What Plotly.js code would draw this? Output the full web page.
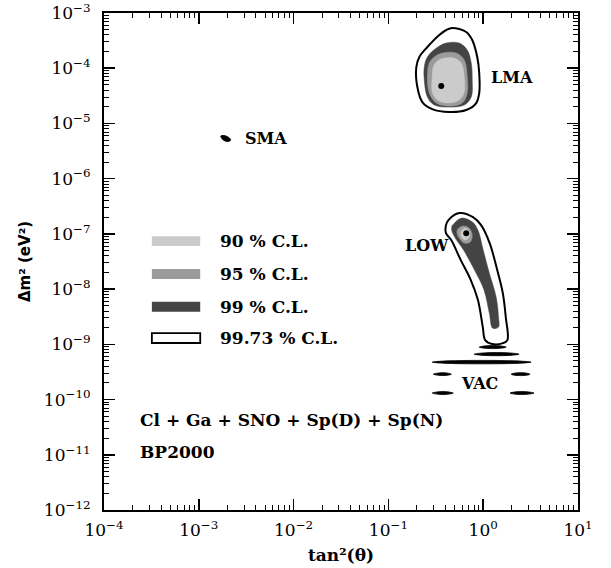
<!DOCTYPE html>
<html>
<head>
<meta charset="utf-8">
<script src="https://cdn.plot.ly/plotly-3.0.1.min.js"></script>
<style>html,body{margin:0;padding:0;background:#fff;}#chart{width:611px;height:568px;}</style>
</head>
<body>
<div id="chart"></div>
<script>
// ---- tick labels ----
const xTickVals = [1e-4, 1e-3, 1e-2, 1e-1, 1, 10];
const xTickText = ['10<sup>−4</sup>', '10<sup>−3</sup>', '10<sup>−2</sup>', '10<sup>−1</sup>', '10<sup>0</sup>', '10<sup>1</sup>'];
const yTickVals = [1e-12, 1e-11, 1e-10, 1e-9, 1e-8, 1e-7, 1e-6, 1e-5, 1e-4, 1e-3];
const yTickText = ['10<sup>−12</sup>', '10<sup>−11</sup>', '10<sup>−10</sup>', '10<sup>−9</sup>', '10<sup>−8</sup>', '10<sup>−7</sup>', '10<sup>−6</sup>', '10<sup>−5</sup>', '10<sup>−4</sup>', '10<sup>−3</sup>'];

// ---- LMA region ----
const lmaOuterX = [0.472, 0.662, 0.766, 0.865, 0.908, 0.908, 0.844, 0.662, 0.438, 0.290, 0.228, 0.202, 0.197, 0.212, 0.258, 0.344, 0.408, 0.472];
const lmaOuterY = [5.35e-4, 4.53e-4, 3.24e-4, 1.60e-4, 8.18e-5, 3.56e-5, 2.34e-5, 1.75e-5, 1.61e-5, 1.82e-5, 2.44e-5, 4.56e-5, 1.05e-4, 1.60e-4, 2.42e-4, 3.99e-4, 4.92e-4, 5.35e-4];
const lma99X = [0.408, 0.559, 0.679, 0.748, 0.766, 0.748, 0.631, 0.438, 0.305, 0.258, 0.239, 0.239, 0.258, 0.320, 0.408];
const lma99Y = [2.86e-4, 2.86e-4, 2.14e-4, 1.24e-4, 6.11e-5, 3.01e-5, 2.15e-5, 1.98e-5, 2.15e-5, 3.01e-5, 6.11e-5, 1.05e-4, 1.60e-4, 2.32e-4, 2.86e-4];
const lma95X = [0.370, 0.520, 0.631, 0.679, 0.679, 0.601, 0.438, 0.320, 0.270, 0.258, 0.270, 0.305, 0.370];
const lma95Y = [1.88e-4, 1.88e-4, 1.41e-4, 6.93e-5, 3.56e-5, 2.34e-5, 2.06e-5, 2.34e-5, 3.56e-5, 6.93e-5, 1.24e-4, 1.60e-4, 1.88e-4];
const lma90X = [0.389, 0.495, 0.586, 0.631, 0.631, 0.559, 0.418, 0.328, 0.290, 0.290, 0.298, 0.328, 0.389];
const lma90Y = [1.53e-4, 1.53e-4, 1.24e-4, 6.93e-5, 3.71e-5, 2.65e-5, 2.34e-5, 2.65e-5, 3.71e-5, 6.93e-5, 1.05e-4, 1.35e-4, 1.53e-4];
const lmaBestX = [0.361];
const lmaBestY = [4.76e-5];

// ---- SMA region ----
const smaX = [1.71e-3, 1.83e-3, 2.07e-3, 2.17e-3, 2.02e-3, 1.79e-3, 1.71e-3];
const smaY = [5.91e-6, 6.04e-6, 5.56e-6, 5.00e-6, 4.70e-6, 5.11e-6, 5.91e-6];

// ---- LOW region ----
const lowOuterX = [0.43, 0.56, 0.78, 0.95, 1.17, 1.38, 1.61, 1.73, 1.80, 1.62, 1.245, 1.05, 0.99, 0.88, 0.74, 0.58, 0.46, 0.405, 0.405, 0.43];
const lowOuterY = [1.78e-7, 2.38e-7, 2.01e-7, 1.44e-7, 6.81e-8, 2.51e-8, 8.47e-9, 3.11e-9, 1.19e-9, 1.05e-9, 1.01e-9, 1.19e-9, 2.05e-9, 6.33e-9, 1.46e-8, 3.35e-8, 7.73e-8, 1.03e-7, 1.44e-7, 1.78e-7];
const low99X = [0.475, 0.59, 0.77, 0.88, 1.00, 1.16, 1.37, 1.45, 1.45, 1.26, 1.16, 1.02, 0.81, 0.62, 0.50, 0.465, 0.47];
const low99Y = [1.44e-7, 1.93e-7, 1.64e-7, 1.17e-7, 5.09e-8, 1.95e-8, 7.16e-9, 3.11e-9, 2.05e-9, 1.96e-9, 3.67e-9, 9.59e-9, 2.21e-8, 5.09e-8, 8.75e-8, 1.17e-7, 1.44e-7];
const low95X = [0.532, 0.601, 0.713, 0.766, 0.730, 0.631, 0.559, 0.532, 0.532];
const low95Y = [1.17e-7, 1.38e-7, 1.27e-7, 9.51e-8, 7.10e-8, 6.81e-8, 8.40e-8, 9.91e-8, 1.17e-7];
const low90X = [0.586, 0.647, 0.713, 0.713, 0.647, 0.586, 0.586];
const low90Y = [1.12e-7, 1.27e-7, 1.12e-7, 8.75e-8, 7.73e-8, 8.75e-8, 1.12e-7];
const lowBestX = [0.662];
const lowBestY = [1.03e-7];

// ---- VAC islands (thin closed contours) ----
const vacIslandsX = [
  [0.908, 1.076, 1.474, 1.746, 1.474, 1.076, 0.908],
  [0.803, 1.025, 1.88, 2.39, 1.88, 1.025, 0.803],
  [0.290, 0.438, 2.12, 3.20, 2.12, 0.438, 0.290],
  [0.298, 0.344, 0.408, 0.461, 0.408, 0.344, 0.298],
  [1.97, 2.22, 2.77, 3.12, 2.77, 2.22, 1.97],
  [0.290, 0.336, 0.418, 0.483, 0.418, 0.336, 0.290],
  [1.92, 2.22, 2.90, 3.44, 2.90, 2.22, 1.92]
];
const vacIslandsY = [
  [8.90e-10, 9.40e-10, 9.40e-10, 8.90e-10, 8.45e-10, 8.45e-10, 8.90e-10],
  [6.64e-10, 7.00e-10, 7.00e-10, 6.64e-10, 6.30e-10, 6.30e-10, 6.64e-10],
  [4.76e-10, 5.03e-10, 5.03e-10, 4.76e-10, 4.51e-10, 4.51e-10, 4.76e-10],
  [2.88e-10, 3.04e-10, 3.04e-10, 2.88e-10, 2.74e-10, 2.74e-10, 2.88e-10],
  [2.88e-10, 3.04e-10, 3.04e-10, 2.88e-10, 2.74e-10, 2.74e-10, 2.88e-10],
  [1.31e-10, 1.38e-10, 1.38e-10, 1.31e-10, 1.245e-10, 1.245e-10, 1.31e-10],
  [1.31e-10, 1.38e-10, 1.38e-10, 1.31e-10, 1.245e-10, 1.245e-10, 1.31e-10]
];

// ---- legend / labels ----
const clLabels = ['90 % C.L.', '95 % C.L.', '99 % C.L.', '99.73 % C.L.'];
const clColors = ['#cbcbcb', '#9b9b9b', '#444444', '#ffffff'];
const regionNames = ['LMA', 'SMA', 'LOW', 'VAC'];
const infoLines = ['Cl + Ga + SNO + Sp(D) + Sp(N)', 'BP2000'];

const C90 = clColors[0], C95 = clColors[1], C99 = clColors[2];

function poly(x, y, fill, lineColor, lineWidth) {
  return {
    type: 'scatter', mode: 'lines', x: x, y: y, fill: 'toself', fillcolor: fill,
    line: {color: lineColor, width: lineWidth, shape: 'spline', smoothing: 1},
    hoverinfo: 'skip', showlegend: false
  };
}
function dot(x, y) {
  return {type: 'scatter', mode: 'markers', x: x, y: y, marker: {color: '#000', size: 6},
    hoverinfo: 'skip', showlegend: false};
}

const traces = [
  poly(lmaOuterX, lmaOuterY, '#ffffff', '#000', 2),
  poly(lma99X, lma99Y, C99, C99, 0.5),
  poly(lma95X, lma95Y, C95, C95, 0.5),
  poly(lma90X, lma90Y, C90, C90, 0.5),
  dot(lmaBestX, lmaBestY),
  poly(smaX, smaY, '#000', '#000', 1),
  poly(lowOuterX, lowOuterY, '#ffffff', '#000', 2),
  poly(low99X, low99Y, C99, C99, 0.5),
  poly(low95X, low95Y, C95, C95, 0.5),
  poly(low90X, low90Y, C90, C90, 0.5),
  dot(lowBestX, lowBestY)
];
for (let i = 0; i < vacIslandsX.length; i++) {
  traces.push(poly(vacIslandsX[i], vacIslandsY[i], '#000', '#000', 0.8));
}
// empty trace that only creates the top/right overlay axes (for mirrored minor ticks)
traces.push({type: 'scatter', mode: 'markers', x: [], y: [], xaxis: 'x2', yaxis: 'y2',
  hoverinfo: 'skip', showlegend: false});

const serif = 'DejaVu Serif, serif';
const annFont = {family: serif, size: 17, color: '#000', weight: 'bold'};

// legend swatch rows (paper coordinates)
const rowTop = [0.551, 0.485, 0.419, 0.356];
const rowBot = [0.531, 0.465, 0.399, 0.336];
const rowMid = [0.541, 0.475, 0.409, 0.346];
const shapes = [];
const annotations = [];
for (let i = 0; i < clLabels.length; i++) {
  shapes.push({type: 'rect', xref: 'paper', yref: 'paper', x0: 0.101, x1: 0.203,
    y0: rowBot[i], y1: rowTop[i], fillcolor: clColors[i],
    line: {color: i === 3 ? '#000' : clColors[i], width: i === 3 ? 1.8 : 0}});
  annotations.push({xref: 'paper', yref: 'paper', x: 0.2405, y: rowMid[i], xanchor: 'left', yanchor: 'middle',
    text: clLabels[i], showarrow: false, font: annFont});
}
const regionPos = [[0.861, 0.871], [0.342, 0.748], [0.681, 0.533], [0.793, 0.254]];
for (let i = 0; i < regionNames.length; i++) {
  annotations.push({xref: 'paper', yref: 'paper', x: regionPos[i][0], y: regionPos[i][1],
    xanchor: 'center', yanchor: 'middle', text: regionNames[i], showarrow: false,
    font: {family: serif, size: 16, color: '#000', weight: 'bold'}});
}
annotations.push({xref: 'paper', yref: 'paper', x: 0.0717, y: 0.181, xanchor: 'left', yanchor: 'middle',
  text: infoLines[0], showarrow: false, font: annFont});
annotations.push({xref: 'paper', yref: 'paper', x: 0.0717, y: 0.117, xanchor: 'left', yanchor: 'middle',
  text: infoLines[1], showarrow: false, font: annFont});

const minorTicks = {ticks: 'inside', ticklen: 5, tickwidth: 1, tickcolor: '#000', dtick: 'D1', showgrid: false};
const axisCommon = {
  type: 'log', showgrid: false, zeroline: false, showline: true, linecolor: '#000', linewidth: 2,
  mirror: 'allticks', ticks: 'inside', ticklen: 11, tickwidth: 1.5, tickcolor: '#000',
  tickmode: 'array',
  minor: minorTicks,
  tickfont: {family: serif, size: 17, color: '#000'}
};

const layout = {
  width: 611, height: 568,
  margin: {l: 104, r: 33, t: 13, b: 58},
  paper_bgcolor: '#fff', plot_bgcolor: '#fff',
  showlegend: false,
  xaxis: Object.assign({}, axisCommon, {
    range: [-4, 1], tickvals: xTickVals, ticktext: xTickText, ticklabelstandoff: 4,
    title: {text: 'tan²(θ)', standoff: 10, font: {family: serif, size: 17, color: '#000', weight: 'bold'}}
  }),
  yaxis: Object.assign({}, axisCommon, {
    range: [-12, -3], tickvals: yTickVals, ticktext: yTickText, ticklabelstandoff: 8,
    title: {text: 'Δm² (eV²)', standoff: 10, font: {family: 'DejaVu Sans, sans-serif', size: 15, color: '#000', weight: 'bold'}}
  }),
  xaxis2: {type: 'log', range: [-4, 1], overlaying: 'x', side: 'top', anchor: 'y2',
    showgrid: false, zeroline: false, showline: false, showticklabels: false,
    tickmode: 'array', tickvals: xTickVals, ticks: 'inside', ticklen: 11, tickwidth: 1.5, tickcolor: '#000',
    minor: minorTicks},
  yaxis2: {type: 'log', range: [-12, -3], overlaying: 'y', side: 'right', anchor: 'x2',
    showgrid: false, zeroline: false, showline: false, showticklabels: false,
    tickmode: 'array', tickvals: yTickVals, ticks: 'inside', ticklen: 11, tickwidth: 1.5, tickcolor: '#000',
    minor: minorTicks},
  shapes: shapes,
  annotations: annotations
};

Plotly.newPlot('chart', traces, layout, {staticPlot: true, displayModeBar: false});
</script>
</body>
</html>
